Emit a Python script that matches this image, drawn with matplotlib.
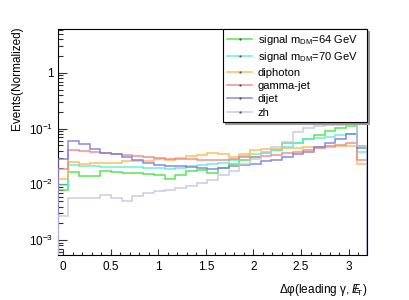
import numpy as np
import matplotlib
matplotlib.use("Agg")
import matplotlib.pyplot as plt
from matplotlib.lines import Line2D
from matplotlib.ticker import MultipleLocator, FixedLocator, FuncFormatter, LogLocator, NullFormatter

plt.rcParams["font.family"] = ["Liberation Sans", "DejaVu Sans"]
plt.rcParams["mathtext.fontset"] = "custom"
plt.rcParams["mathtext.rm"] = "Liberation Sans"
plt.rcParams["mathtext.it"] = "Liberation Sans:italic"
plt.rcParams["mathtext.bf"] = "Liberation Sans:bold"

# 29 bins in delta phi, centred on k*pi/28
n_bins = 29
sig64 = [0.0079, 0.0168, 0.0141, 0.0141, 0.0173, 0.0168, 0.0161, 0.0157, 0.0151, 0.0147,
         0.0127, 0.0147, 0.0173, 0.0184, 0.0161, 0.0194, 0.0236, 0.0272, 0.0313, 0.0368,
         0.0412, 0.0543, 0.0557, 0.0640, 0.0765, 0.0914, 0.1010, 0.1110, 0.0492]
sig70 = [0.0097, 0.0222, 0.0213, 0.0213, 0.0207, 0.0207, 0.0202, 0.0202, 0.0194, 0.0194,
         0.0192, 0.0200, 0.0213, 0.0222, 0.0231, 0.0241, 0.0272, 0.0328, 0.0356, 0.0384,
         0.0412, 0.0472, 0.0557, 0.0640, 0.0668, 0.0713, 0.0765, 0.0797, 0.0384]
diphoton = [0.0123, 0.0254, 0.0231, 0.0238, 0.0244, 0.0244, 0.0265, 0.0265, 0.0265, 0.0280,
            0.0272, 0.0292, 0.0328, 0.0335, 0.0364, 0.0356, 0.0315, 0.0356, 0.0420, 0.0424,
            0.0424, 0.0442, 0.0456, 0.0466, 0.0472, 0.0472, 0.0480, 0.0486, 0.0231]
gammajet = [0.0186, 0.0412, 0.0400, 0.0384, 0.0360, 0.0349, 0.0335, 0.0322, 0.0305, 0.0292,
            0.0288, 0.0284, 0.0280, 0.0278, 0.0278, 0.0275, 0.0285, 0.0305, 0.0313, 0.0322,
            0.0335, 0.0360, 0.0384, 0.0412, 0.0453, 0.0486, 0.0506, 0.0543, 0.0272]
dijet = [0.0280, 0.0604, 0.0527, 0.0424, 0.0368, 0.0345, 0.0313, 0.0272, 0.0244, 0.0219,
         0.0213, 0.0213, 0.0202, 0.0194, 0.0186, 0.0194, 0.0210, 0.0222, 0.0235, 0.0262,
         0.0272, 0.0313, 0.0349, 0.0384, 0.0460, 0.0543, 0.0640, 0.0797, 0.0442]
zh = [0.0027, 0.0058, 0.0056, 0.0058, 0.0064, 0.0058, 0.0051, 0.0062, 0.0069, 0.0077,
      0.0079, 0.0085, 0.0093, 0.0107, 0.0119, 0.0147, 0.0175, 0.0228, 0.0280, 0.0360,
      0.0472, 0.0580, 0.0855, 0.1010, 0.1110, 0.1156, 0.1160, 0.1160, 0.0490]

labels = [r"signal m$_{\rm DM}$=64 GeV", r"signal m$_{\rm DM}$=70 GeV",
          "diphoton", "gamma-jet", "dijet", "zh"]
colors = ["#3fe63f", "#55f0d2", "#ffb84a", "#ef8585", "#7c7ce0", "#c6c6de"]
series = [sig64, sig70, diphoton, gammajet, dijet, zh]

width = np.pi / 28
edges = (np.arange(n_bins + 1) - 0.5) * width

fig = plt.figure(figsize=(4.09, 3.0), dpi=100)
ax = fig.add_axes([0.141, 0.15, 0.7575, 0.753])

for vals, c in zip(series, colors):
    ax.stairs(vals, edges, baseline=1e-6, fill=False, color=c, lw=1.1, alpha=0.9, zorder=3)

ax.set_yscale("log")
ax.set_xlim(edges[0], edges[-1])
ax.set_ylim(5.4e-4, 6.1)

ax.xaxis.set_major_locator(MultipleLocator(0.5))
ax.xaxis.set_minor_locator(MultipleLocator(0.1))
ax.xaxis.set_major_formatter(FuncFormatter(lambda v, p: "%g" % v))
ax.yaxis.set_major_locator(FixedLocator([1e-3, 1e-2, 1e-1, 1]))
ax.yaxis.set_minor_locator(LogLocator(base=10, subs=np.arange(2, 10)))
ax.yaxis.set_minor_formatter(NullFormatter())


def yfmt(v, p):
    if abs(v - 1) < 1e-9:
        return "1"
    return r"$\mathregular{10^{%d}}$" % int(round(np.log10(v)))


ax.yaxis.set_major_formatter(FuncFormatter(yfmt))

ax.tick_params(axis="both", which="both", direction="in", top=False, right=False,
               labelsize=8.5, width=0.8, color="#333333")
ax.tick_params(axis="x", which="major", length=4.5, pad=4)
ax.tick_params(axis="x", which="minor", length=2.2)
ax.tick_params(axis="y", which="major", length=6.5, pad=3)
ax.tick_params(axis="y", which="minor", length=3.3)
for s in ax.spines.values():
    s.set_linewidth(0.8)
    s.set_zorder(2)

ax.set_xlabel(r"Δφ(leading γ, ${E\!\!\!\!/}_{\rm T}$)", fontsize=8.5, ha="right")
ax.xaxis.set_label_coords(1.0, -0.12)
ax.set_ylabel("Events(Normalized)", fontsize=8.5, ha="right")
ax.yaxis.set_label_coords(-0.112, 1.01)

handles = [Line2D([], [], color=c, lw=1.1, alpha=0.9, marker=".", markersize=1.5,
                  markerfacecolor="#555555", markeredgecolor="#555555")
           for c in colors]
leg = ax.legend(handles, labels, loc="upper left", bbox_to_anchor=(0.545, 0.603, 0.353, 0.30),
                bbox_transform=fig.transFigure, mode="expand", fontsize=8, numpoints=1,
                handlelength=2.3, handletextpad=0.5, labelspacing=0.3, borderpad=0.35,
                borderaxespad=0, fancybox=False, framealpha=1,
                shadow={"color": "#999999", "alpha": 1, "ox": 1.5, "oy": -1.5})
leg.get_frame().set_edgecolor("black")
leg.get_frame().set_linewidth(0.8)

fig.savefig("out.png", dpi=100)
